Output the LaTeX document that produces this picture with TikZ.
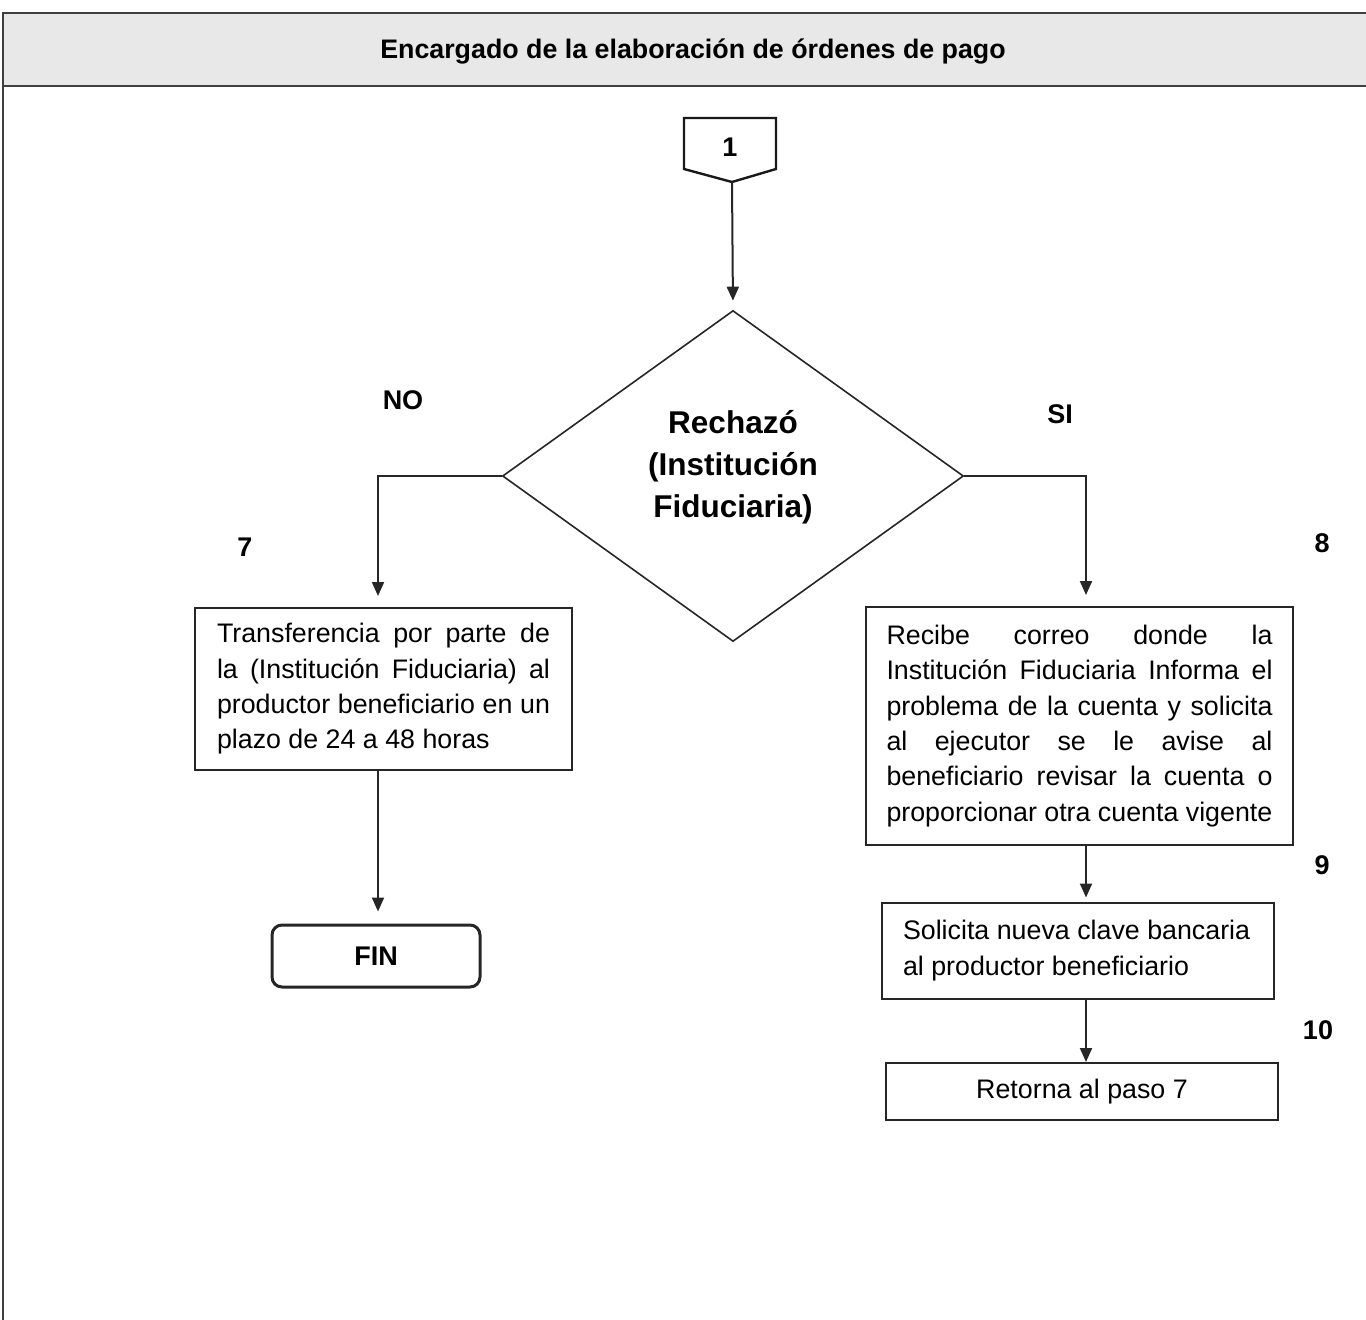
\documentclass[tikz,border=0pt]{standalone}
\usepackage{fontspec}
\setmainfont{Liberation Sans}
\usetikzlibrary{arrows.meta,shapes.geometric}

\newcommand{\bodyfont}{\fontsize{26.8}{35.3}\selectfont}
\newcommand{\labfont}{\fontsize{27}{32}\selectfont\bfseries}
% a line spread to the given width, with the font's own stretchable spaces
\newcommand{\sline}[2]{\makebox[#1pt][s]{\spaceskip=0pt\relax #2}}
% a line at its natural width
\newcommand{\nline}[1]{\mbox{\spaceskip=0pt\relax #1}}

\tikzset{
  frameline/.style={draw=black!75, line width=2pt},
  procbox/.style={draw=black!85, line width=2pt, rectangle, inner ysep=0pt,
    align=left, font=\bodyfont},
  decbox/.style={draw=black!85, line width=1.6pt, shape=diamond, inner sep=0pt,
    minimum width=461pt, minimum height=331pt},
  dectext/.style={align=center, inner sep=0pt,
    font=\fontsize{31.5}{42}\selectfont\bfseries},
  endbox/.style={draw=black!85, line width=3pt, rounded corners=10pt,
    minimum width=208pt, minimum height=62pt, font=\labfont},
  steplabel/.style={font=\labfont, inner sep=0pt},
  flow/.style={draw=black!85, line width=2pt,
    -{Triangle[length=14pt,width=12pt]}},
}

\begin{document}
\begin{tikzpicture}[x=1pt,y=-1pt]
\useasboundingbox (0,0) rectangle (1366,1320);

% lane header and frame
\fill[black!9] (3,13) rectangle (1366,86);
\draw[frameline] (1366,13) -- (3,13) -- (3,1320);
\draw[frameline] (3,86) -- (1366,86);
\node[font=\fontsize{26.8}{32}\selectfont\bfseries] (title) at (693,52)
  {Encargado de la elaboración de órdenes de pago};

% off-page connector
\draw[draw=black!90, line width=2.4pt, line join=miter]
  (684,118) -- (776,118) -- (776,169) -- (732,182) -- (684,169) -- cycle;
\coordinate (conn) at (732,182);
\node[steplabel] (one) at (730,147) {1};

% decision
\node[decbox] (dec) at (733,476) {};
\node[dectext] (dectxt) at (733,467) {Rechazó\\(Institución\\Fiduciaria)};

% column guides
\coordinate (lc) at (378,0);
\coordinate (rc) at (1086,0);

% left branch
\node[procbox, text width=333pt, inner xsep=22pt, minimum height=162pt]
  (trans) at (383.5,689)
  {\sline{333}{Transferencia por parte de}\\
   \sline{333}{la (Institución Fiduciaria) al}\\
   \sline{333}{productor beneficiario en un}\\
   \nline{plazo de 24 a 48 horas}};
\node[endbox] (fin) at (376,956) {FIN};

% right branch
\node[procbox, text width=386pt, inner xsep=20.5pt, minimum height=238pt]
  (correo) at (1079.5,726)
  {\sline{386}{Recibe correo donde la}\\
   \sline{386}{Institución Fiduciaria Informa el}\\
   \sline{386}{problema de la cuenta y solicita}\\
   \sline{386}{al ejecutor se le avise al}\\
   \sline{386}{beneficiario revisar la cuenta o}\\
   \nline{proporcionar otra cuenta vigente}};
\node[procbox, text width=350pt, inner xsep=21pt, minimum height=96pt]
  (clave) at (1078,950.5)
  {\nline{Solicita nueva clave bancaria}\\\nline{al productor beneficiario}};
\node[procbox, minimum width=392pt, minimum height=57pt, align=center]
  (retorna) at (1082,1091.5) {\nline{Retorna al paso 7}};

% labels
\node[steplabel] (no) at (403,400) {NO};
\node[steplabel] (si) at (1060,414) {SI};
\node[steplabel] (s7) at (245,547) {7};
\node[steplabel] (s8) at (1322,543) {8};
\node[steplabel] (s9) at (1322,865) {9};
\node[steplabel] (s10) at (1318,1030) {10};

% connectors
\draw[flow, shorten >=9pt] (conn) -- (dec.north);
\draw[flow, shorten >=11pt] (dec.west) -| (trans.north -| lc);
\draw[flow, shorten >=12pt] (trans.south -| lc) -- (fin.north -| lc);
\draw[flow, shorten >=11pt] (dec.east) -| (correo.north -| rc);
\draw[flow, shorten >=4pt] (correo.south -| rc) -- (clave.north -| rc);
\draw[flow] (clave.south -| rc) -- (retorna.north -| rc);
\end{tikzpicture}
\end{document}
